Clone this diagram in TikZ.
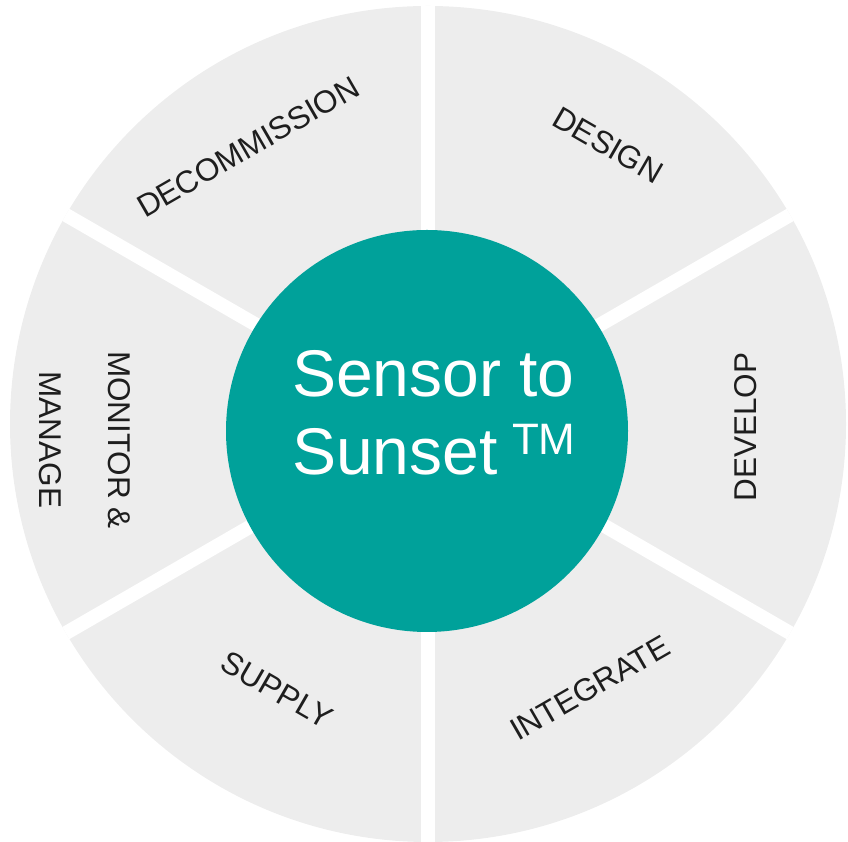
\documentclass[tikz,border=0pt]{standalone}
\usepackage{fontspec}
\setmainfont{Liberation Sans}
\usetikzlibrary{positioning}

\definecolor{wheelgray}{HTML}{EDEDED}
\definecolor{hubteal}{HTML}{00A19A}
\definecolor{labelgray}{HTML}{1E1E1E}

\tikzset{
  stage/.style={font=\fontsize{31.5}{36}\selectfont, text=labelgray, inner sep=0pt, align=center},
  hubtext/.style={font=\fontsize{66}{78}\selectfont, text=white, inner sep=0pt, anchor=base west},
  gap/.style={white, line width=14pt},
}

\begin{document}
\begin{tikzpicture}[x=1pt, y=1pt]
            \useasboundingbox (0,0) rectangle (848,842);
            \node[circle, fill=wheelgray, minimum size=836pt, inner sep=0pt] (wheel) at (428,418) {};
            \foreach \a in {30,90,...,330}
                \draw[gap] (wheel.center) -- (wheel.\a);
            \node[circle, fill=hubteal, minimum size=402pt, inner sep=0pt] (hub) at (427,411) {};

            % centre text
            \node[hubtext] (sensor) at (292,445) {Sensor to};
            \node[hubtext] (sunset) at (292,367) {Sunset};
            \node[hubtext, font=\fontsize{44}{44}\selectfont, right=14pt of sunset.base east, anchor=base west, yshift=20pt] (tm) {TM};

            % stages round the wheel
            \node[stage, rotate=-30] (design) at (608,697) {DESIGN};
            \node[stage, rotate=90] (develop) at (746,415) {DEVELOP};
            \node[stage, rotate=30] (integrate) at (590,154) {INTEGRATE};
            \node[stage, rotate=-30] (supply) at (277,152) {SUPPLY};
            \node[stage, rotate=-90, font=\fontsize{31.5}{69}\selectfont] (monitor) at (85,402) {MONITOR \&\\MANAGE};
            \node[stage, rotate=30] (decommission) at (248,695) {DECOMMISSION};
        \end{tikzpicture}
\end{document}
